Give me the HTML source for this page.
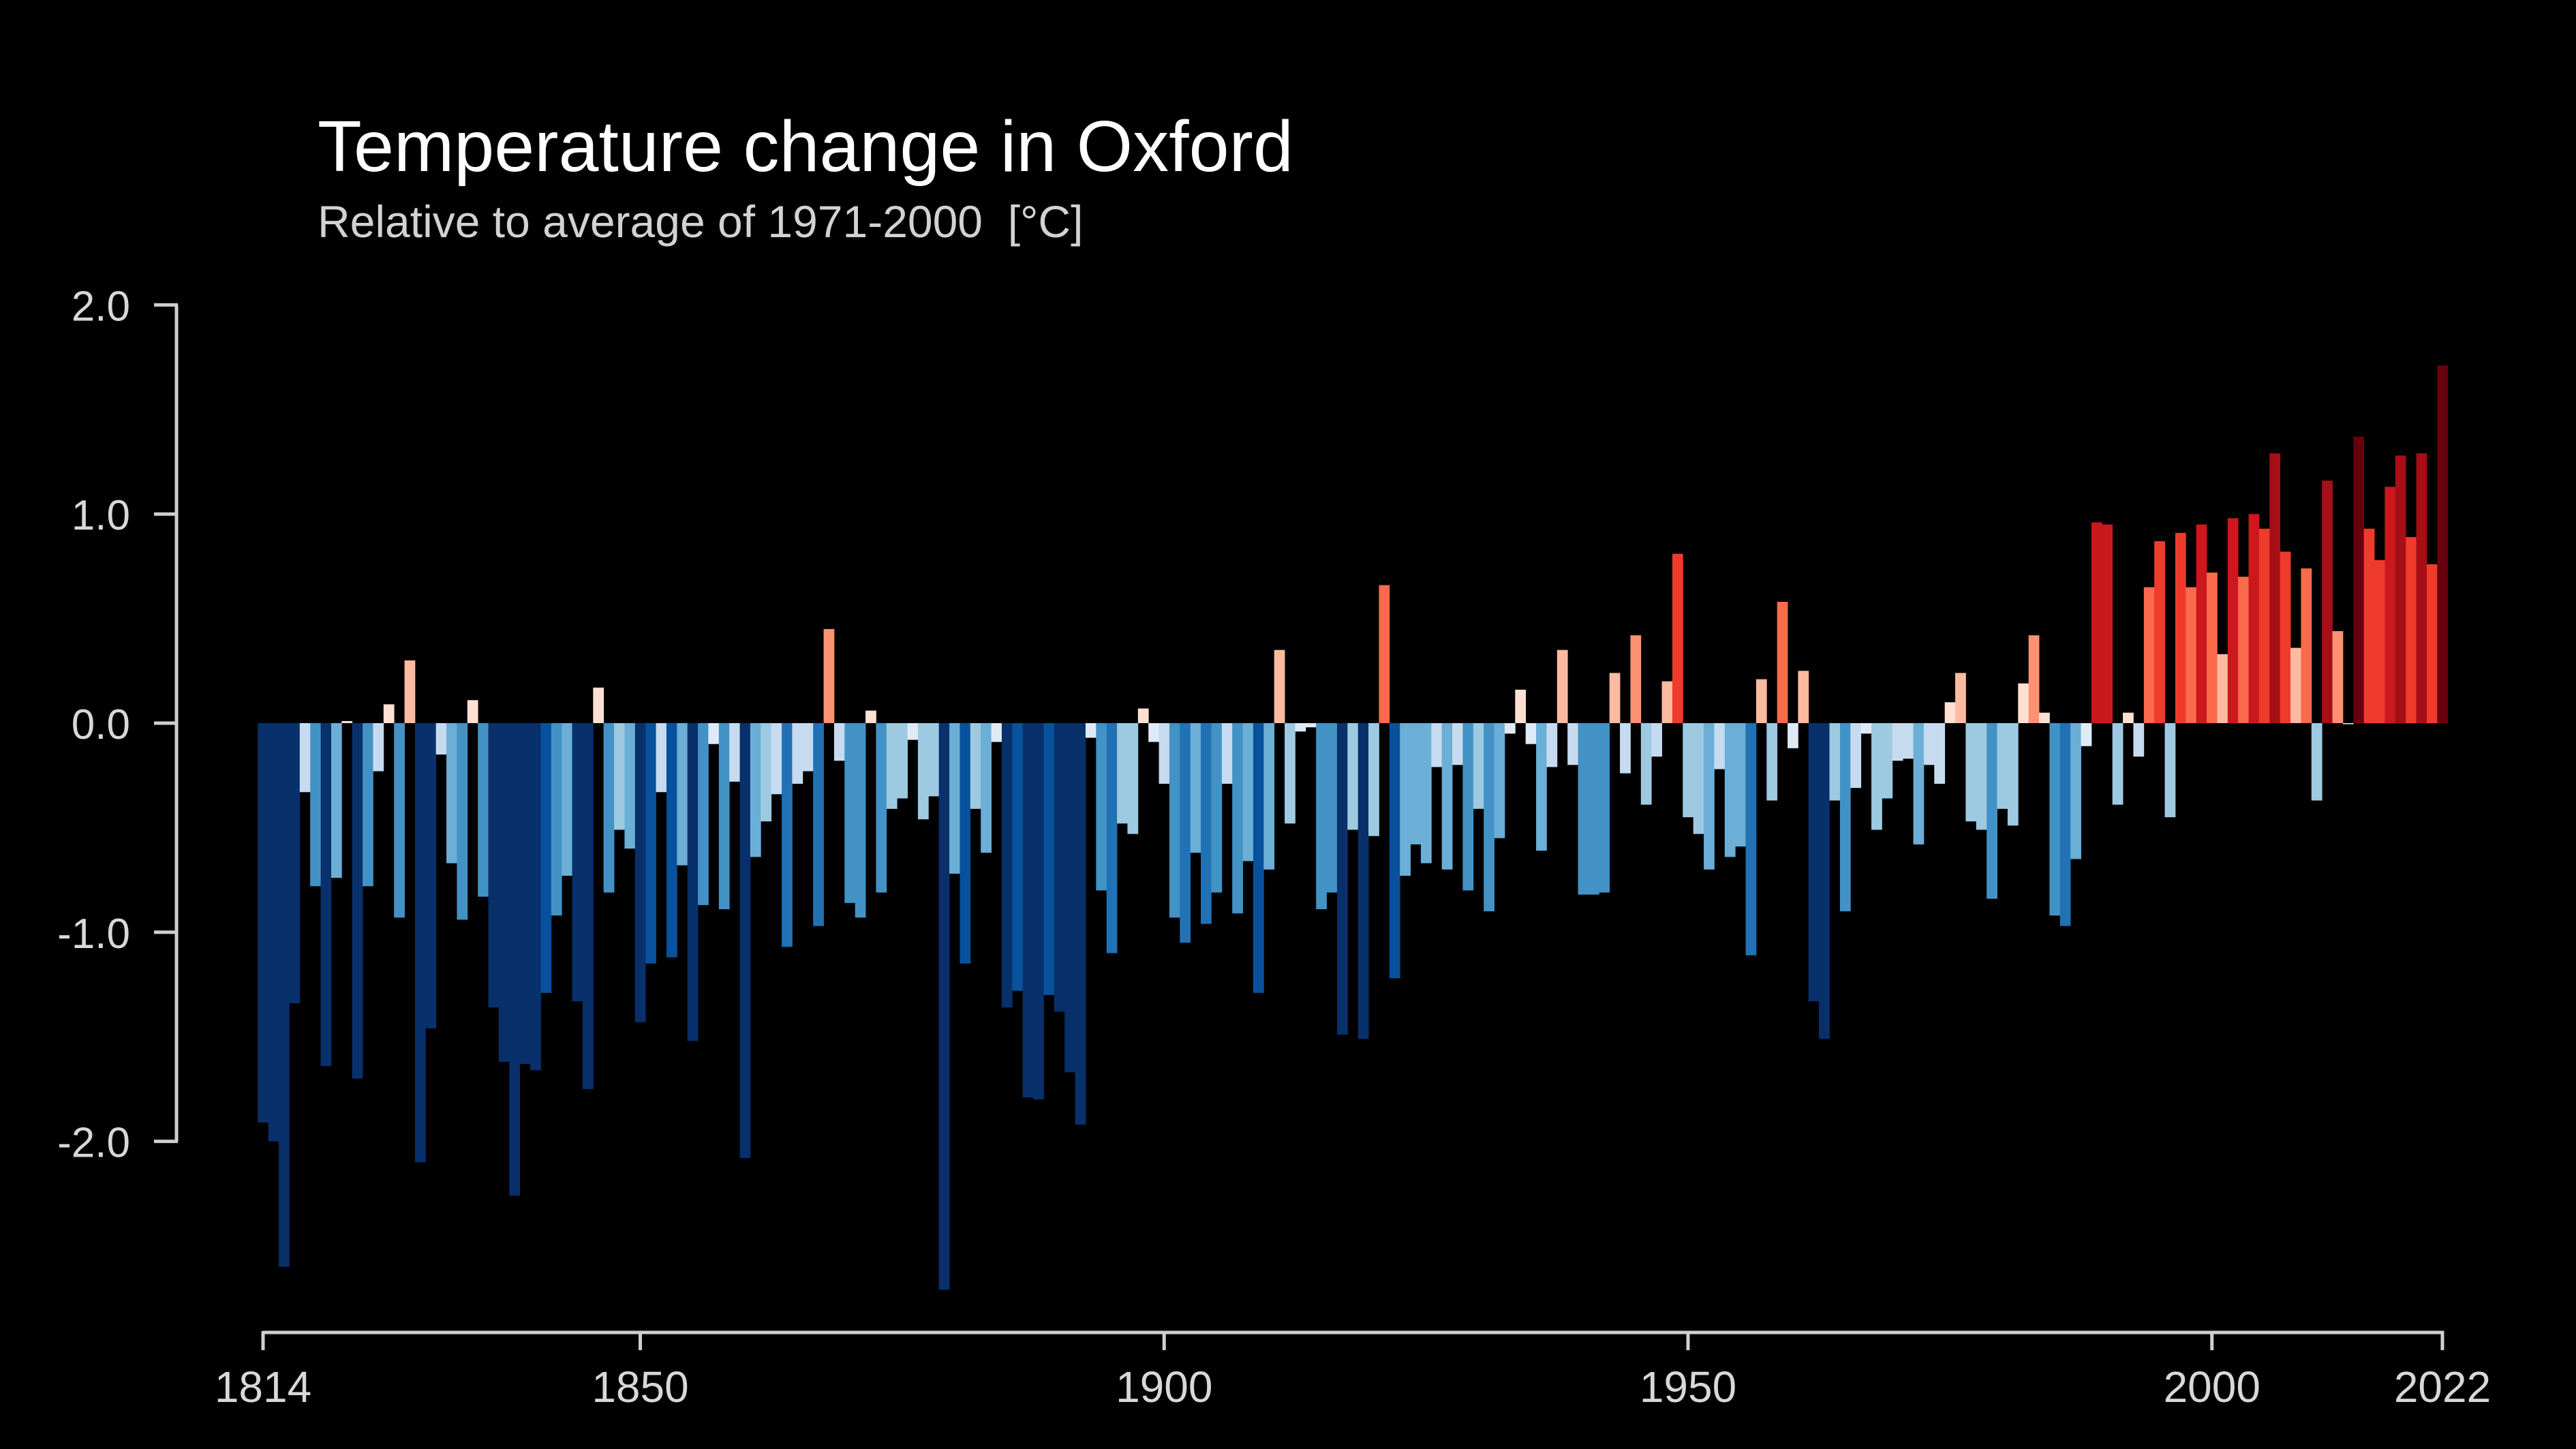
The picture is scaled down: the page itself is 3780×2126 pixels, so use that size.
<!DOCTYPE html>
<html><head><meta charset="utf-8"><style>
html,body{margin:0;padding:0;background:#000;}
svg{display:block;}
text{font-family:"Liberation Sans",Arial,sans-serif;}
</style></head><body>
<svg id="chart" width="3780" height="2126" viewBox="0 0 3780 2126" xmlns="http://www.w3.org/2000/svg">
<rect x="0" y="0" width="3780" height="2126" fill="#000"/>
<text x="466" y="251" font-size="106" fill="#ffffff">Temperature change in Oxford</text>
<text x="466" y="348" font-size="66" fill="#d2d2d2">Relative to average of 1971-2000 &#160;[°C]</text>
<g id="bars"></g>
<g id="yaxis"></g>
<g id="xaxis"></g>
</svg>
<script>
const startYear = 1814;
const anomalies = [
-1.91,-2.00,-2.60,-1.34,-0.33,-0.78,-1.64,-0.74,0.01,-1.70,
-0.78,-0.23,0.09,-0.93,0.30,-2.10,-1.46,-0.15,-0.67,-0.94,
0.11,-0.83,-1.36,-1.62,-2.26,-1.63,-1.66,-1.29,-0.92,-0.73,
-1.33,-1.75,0.17,-0.81,-0.51,-0.60,-1.43,-1.15,-0.33,-1.12,
-0.68,-1.52,-0.87,-0.10,-0.89,-0.28,-2.08,-0.64,-0.47,-0.34,
-1.07,-0.29,-0.23,-0.97,0.45,-0.18,-0.86,-0.93,0.06,-0.81,
-0.41,-0.36,-0.08,-0.46,-0.35,-2.71,-0.72,-1.15,-0.41,-0.62,
-0.09,-1.36,-1.28,-1.79,-1.80,-1.30,-1.38,-1.67,-1.92,-0.07,
-0.80,-1.10,-0.48,-0.53,0.07,-0.09,-0.29,-0.93,-1.05,-0.62,
-0.96,-0.81,-0.29,-0.91,-0.66,-1.29,-0.70,0.35,-0.48,-0.04,
-0.02,-0.89,-0.81,-1.49,-0.51,-1.51,-0.54,0.66,-1.22,-0.73,
-0.58,-0.67,-0.21,-0.70,-0.20,-0.80,-0.41,-0.90,-0.55,-0.05,
0.16,-0.10,-0.61,-0.21,0.35,-0.20,-0.82,-0.82,-0.81,0.24,
-0.24,0.42,-0.39,-0.16,0.20,0.81,-0.45,-0.53,-0.70,-0.22,
-0.64,-0.59,-1.11,0.21,-0.37,0.58,-0.12,0.25,-1.33,-1.51,
-0.37,-0.90,-0.31,-0.05,-0.51,-0.36,-0.18,-0.17,-0.58,-0.20,
-0.29,0.10,0.24,-0.47,-0.51,-0.84,-0.41,-0.49,0.19,0.42,
0.05,-0.92,-0.97,-0.65,-0.11,0.96,0.95,-0.39,0.05,-0.16,
0.65,0.87,-0.45,0.91,0.65,0.95,0.72,0.33,0.98,0.70,
1.00,0.93,1.29,0.82,0.36,0.74,-0.37,1.16,0.44,-0.005,
1.37,0.93,0.78,1.13,1.28,0.89,1.29,0.76,1.71
];
const yTicks = [2.0, 1.0, 0.0, -1.0, -2.0];
const yTickLabels = ["2.0", "1.0", "0.0", "-1.0", "-2.0"];
const xTicks = [1814, 1850, 1900, 1950, 2000, 2022];
const xTickLabels = ["1814", "1850", "1900", "1950", "2000", "2022"];

const NS = "http://www.w3.org/2000/svg";
const X0 = 386, X1 = 3584, Y_ZERO = 1061, Y_UNIT = 306.8;
const endYear = startYear + anomalies.length - 1;
const bw = (X1 - X0) / (endYear - startYear);
function xScale(year){ return X0 + (year - startYear) * bw; }
function yScale(v){ return Y_ZERO - v * Y_UNIT; }
function colorFor(v){
  if (v >= 0){
    if (v < 0.2) return "#fee0d2";
    if (v < 0.4) return "#fcbba1";
    if (v < 0.55) return "#fc9272";
    if (v < 0.75) return "#fb6a4a";
    if (v < 0.94) return "#ef3b2c";
    if (v < 1.15) return "#cb181d";
    if (v < 1.35) return "#a50f15";
    return "#67000d";
  } else {
    if (v > -0.15) return "#deebf7";
    if (v > -0.35) return "#c6dbef";
    if (v > -0.55) return "#9ecae1";
    if (v > -0.75) return "#6baed6";
    if (v > -0.95) return "#4292c6";
    if (v > -1.12) return "#2171b5";
    if (v > -1.32) return "#08519c";
    return "#08306b";
  }
}
function mk(tag, attrs){
  const el = document.createElementNS(NS, tag);
  for (const k in attrs) el.setAttribute(k, attrs[k]);
  return el;
}
const barsG = document.getElementById("bars");
anomalies.forEach((v, i) => {
  const year = startYear + i;
  const cx = xScale(year);
  const y0 = yScale(0), y1 = yScale(v);
  const r = mk("rect", {x: cx - bw/2, y: Math.min(y0, y1), width: bw + 0.4, height: Math.max(Math.abs(y1 - y0), 1), fill: colorFor(v)});
  
  
  barsG.appendChild(r);
});
const AX = "#cfcfcf";
const yG = document.getElementById("yaxis");
const yLine = mk("line", {x1: 259, x2: 259, y1: yScale(yTicks[0]), y2: yScale(yTicks[yTicks.length-1]), stroke: AX, "stroke-width": 5});


yG.appendChild(yLine);
yTicks.forEach((t, i) => {
  const y = yScale(t);
  const tk = mk("line", {x1: 226, x2: 261, y1: y, y2: y, stroke: AX, "stroke-width": 5});
  
  
  yG.appendChild(tk);
  const tx = mk("text", {x: 191, y: y + 23, "font-size": 62, fill: "#d8d8d8", "text-anchor": "end"});
  tx.textContent = yTickLabels[i];
  
  
  yG.appendChild(tx);
});
const xG = document.getElementById("xaxis");
const xLine = mk("line", {x1: xScale(xTicks[0]), x2: xScale(xTicks[xTicks.length-1]) + 2, y1: 1955, y2: 1955, stroke: AX, "stroke-width": 5});


xG.appendChild(xLine);
xTicks.forEach((t, i) => {
  const x = xScale(t);
  const tk = mk("line", {x1: x, x2: x, y1: 1953, y2: 1981, stroke: AX, "stroke-width": 5});
  
  
  xG.appendChild(tk);
  const tx = mk("text", {x: x, y: 2057, "font-size": 64, fill: "#d8d8d8", "text-anchor": "middle"});
  tx.textContent = xTickLabels[i];
  
  
  xG.appendChild(tx);
});
</script>
</body></html>
